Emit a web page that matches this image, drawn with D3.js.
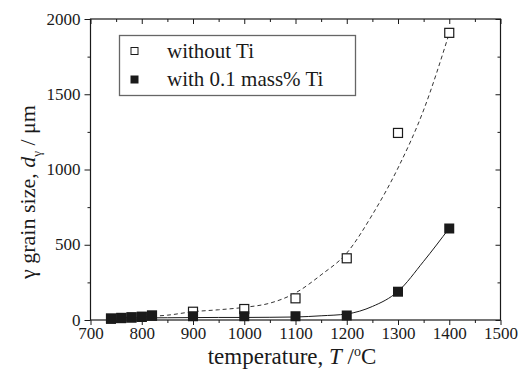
<!DOCTYPE html>
<html><head><meta charset="utf-8">
<script src="https://cdn.jsdelivr.net/npm/d3@7"></script>
<style>
html,body{margin:0;padding:0;background:#fff;}
</style></head>
<body><svg id="c" width="521" height="380"></svg>
<script>
// data
const temps = [740, 760, 780, 800, 820, 900, 1000, 1100, 1200, 1300, 1400];
const withoutTi = [10, 14, 18, 22, 30, 55, 73, 144, 410, 1243, 1908];
const withTi = [8, 12, 16, 20, 28, 25, 25, 25, 30, 188, 608];
// fitted curves
const fitTemps = [740, 800, 850, 900, 950, 1000, 1050, 1100, 1150, 1200, 1250, 1300, 1350, 1400];
const fitWithout = [15, 22, 32, 55, 68, 84, 112, 180, 300, 445, 700, 1010, 1395, 1905];
const fitWith = [12, 14, 15, 16, 17, 17, 18, 20, 28, 40, 90, 190, 390, 610];
const xTicks = [700, 800, 900, 1000, 1100, 1200, 1300, 1400, 1500];
const yTicks = [0, 500, 1000, 1500, 2000];
const legendLabels = ["without Ti", "with 0.1 mass% Ti"];

const FONT = "'Liberation Serif', 'Times New Roman', Times, Tinos, 'Nimbus Roman', 'Nimbus Roman No9 L', FreeSerif, 'DejaVu Serif', 'Noto Serif', 'Noto Serif CJK SC', 'Noto Serif CJK JP', serif";
const svg = d3.select("#c");
const x = d3.scaleLinear().domain([700, 1500]).range([90.5, 500.5]);
const y = d3.scaleLinear().domain([0, 2000]).range([320, 19]);
const ink = "#1a1a1a";

// frame
svg.append("rect").attr("x", x(700)).attr("y", y(2000))
  .attr("width", x(1500) - x(700)).attr("height", y(0) - y(2000))
  .attr("fill", "none").attr("stroke", ink).attr("stroke-width", 1.2);

const xMinor = d3.range(750, 1500, 100);
const yMinor = d3.range(250, 2000, 500);

// bottom axis (outward ticks)
const bx = svg.append("g").attr("transform", `translate(0,${y(0)})`)
  .call(d3.axisBottom(x).tickValues(xTicks).tickSize(5).tickPadding(1).tickFormat(d3.format("d")));
bx.append("g").call(d3.axisBottom(x).tickValues(xMinor).tickSize(3).tickFormat(""));
// left axis (outward ticks)
const ly = svg.append("g").attr("transform", `translate(${x(700)},0)`)
  .call(d3.axisLeft(y).tickValues(yTicks).tickSize(6).tickPadding(4).tickFormat(d3.format("d")));
ly.append("g").call(d3.axisLeft(y).tickValues(yMinor).tickSize(3).tickFormat(""));
// top axis (inward)
const tx = svg.append("g").attr("transform", `translate(0,${y(2000)})`)
  .call(d3.axisTop(x).tickValues(xTicks).tickSize(-5).tickFormat(""));
tx.append("g").call(d3.axisTop(x).tickValues(xMinor).tickSize(-3).tickFormat(""));
// right axis (inward)
const ry = svg.append("g").attr("transform", `translate(${x(1500)},0)`)
  .call(d3.axisRight(y).tickValues(yTicks).tickSize(-5).tickFormat(""));
ry.append("g").call(d3.axisRight(y).tickValues(yMinor).tickSize(-3).tickFormat(""));

svg.selectAll(".domain").attr("stroke", "none");
svg.selectAll(".tick line").attr("stroke", ink).attr("stroke-width", 1);
svg.selectAll(".tick text").attr("font-family", FONT).attr("font-size", 17).attr("fill", ink);
ly.selectAll(".tick text").attr("dy", "0.3em");
bx.selectAll(".tick text").attr("dy", "0.75em");

// fit curves
const line = d3.line().x(d => x(d[0])).y(d => y(d[1])).curve(d3.curveMonotoneX);
svg.append("path").datum(fitTemps.map((t, i) => [t, fitWithout[i]]))
  .attr("d", line).attr("fill", "none").attr("stroke", "#333").attr("stroke-width", 1)
  .attr("stroke-dasharray", "4,3");
svg.append("path").datum(fitTemps.map((t, i) => [t, fitWith[i]]))
  .attr("d", line).attr("fill", "none").attr("stroke", ink).attr("stroke-width", 1);

// markers
const s = 9;
svg.append("g").selectAll("rect").data(temps.map((t, i) => [t, withoutTi[i]])).join("rect")
  .attr("x", d => x(d[0]) - s / 2).attr("y", d => y(d[1]) - s / 2)
  .attr("width", s).attr("height", s).attr("fill", "#fff").attr("stroke", ink).attr("stroke-width", 1.2);
const f = 10;
svg.append("g").selectAll("rect").data(temps.map((t, i) => [t, withTi[i]])).join("rect")
  .attr("x", d => x(d[0]) - f / 2).attr("y", d => y(d[1]) - f / 2)
  .attr("width", f).attr("height", f).attr("fill", ink);

// legend
const lg = svg.append("g");
lg.append("rect").attr("x", 119.5).attr("y", 35.5).attr("width", 236).attr("height", 60)
  .attr("fill", "#fff").attr("stroke", "#666").attr("stroke-width", 1.3);
lg.append("rect").attr("x", 131).attr("y", 47.5).attr("width", 7).attr("height", 7)
  .attr("fill", "#fff").attr("stroke", ink).attr("stroke-width", 1);
lg.append("rect").attr("x", 130.5).attr("y", 75.5).attr("width", 8).attr("height", 8).attr("fill", ink);
lg.selectAll("text").data(legendLabels).join("text")
  .attr("font-family", FONT).attr("fill", ink)
  .attr("x", 167).attr("y", (d, i) => 57.5 + i * 28.5)
  .attr("font-size", 21).text(d => d);

// x title
const xt = svg.append("text").attr("font-family", FONT).attr("fill", ink)
  .attr("x", 292).attr("y", 364).attr("text-anchor", "middle").attr("font-size", 23);
xt.append("tspan").text("temperature, ");
xt.append("tspan").attr("font-style", "italic").text("T");
xt.append("tspan").text(" /");
xt.append("tspan").attr("font-size", 14).attr("dy", -8).text("o");
xt.append("tspan").attr("dy", 8).text("C");

// y title
const yt = svg.append("text").attr("font-family", FONT).attr("fill", ink)
  .attr("transform", "translate(35,192) rotate(-90)")
  .attr("text-anchor", "middle").attr("font-size", 22);
yt.append("tspan").text("γ grain size, ");
yt.append("tspan").attr("font-style", "italic").text("d");
yt.append("tspan").attr("font-size", 13).attr("dy", 6).text("γ");
yt.append("tspan").attr("dy", -6).text(" / μm");
</script></body></html>
